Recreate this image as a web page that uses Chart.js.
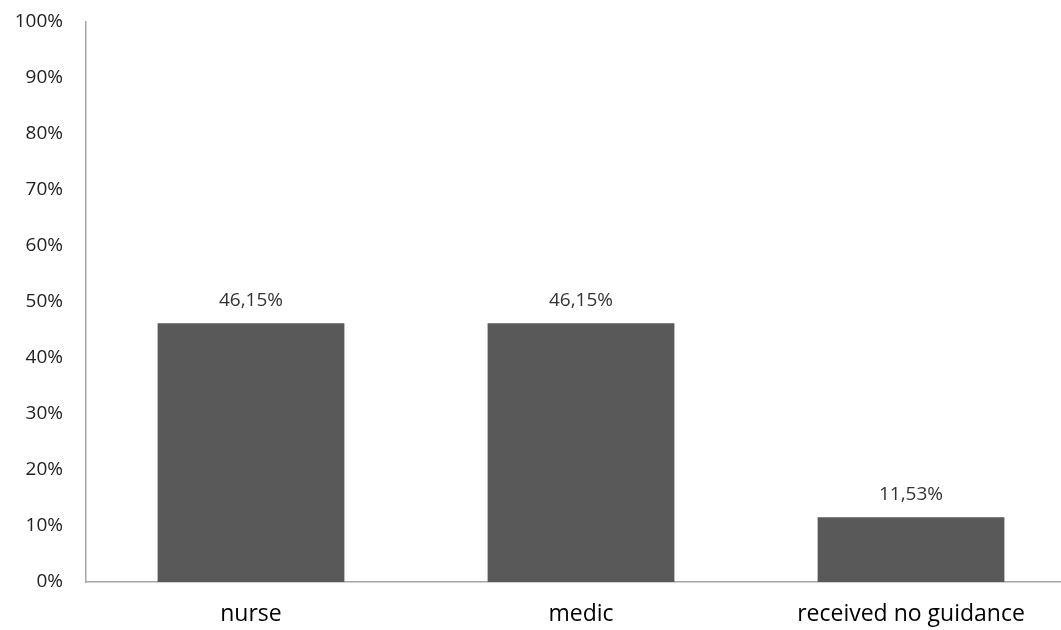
<!DOCTYPE html>
<html>
<head>
<meta charset="utf-8">
<script src="https://cdn.jsdelivr.net/npm/chart.js@4"></script>
<style>
  html, body { margin: 0; padding: 0; background: #fff; overflow: hidden; }
  #wrap { width: 1076px; height: 635px; position: relative; top: -5px; }
</style>
</head>
<body>
<div id="wrap"><canvas id="chart"></canvas></div>
<script>
const categories = ['nurse', 'medic', 'received no guidance'];
const shares = [46.15, 46.15, 11.53];
const tickValues = [0, 10, 20, 30, 40, 50, 60, 70, 80, 90, 100];

const FONT = '"Open Sans", "Liberation Sans", sans-serif';

// writes the value above each bar, decimal comma like the original
const valueLabels = {
  id: 'valueLabels',
  afterDatasetsDraw(chart) {
    const ctx = chart.ctx;
    const meta = chart.getDatasetMeta(0);
    ctx.save();
    ctx.font = '19px ' + FONT;
    ctx.fillStyle = '#333';
    ctx.textAlign = 'center';
    ctx.textBaseline = 'middle';
    meta.data.forEach((bar, i) => {
      const txt = shares[i].toFixed(2).replace('.', ',') + '%';
      ctx.fillText(txt, bar.x, bar.y - 23);
    });
    ctx.restore();
  }
};

new Chart(document.getElementById('chart'), {
  type: 'bar',
  data: {
    labels: categories,
    datasets: [{
      data: shares,
      backgroundColor: '#595959',
      borderWidth: 0,
      categoryPercentage: 1,
      barPercentage: 0.566
    }]
  },
  options: {
    responsive: true,
    maintainAspectRatio: false,
    animation: false,
    events: [],
    layout: { padding: 0 },
    plugins: { legend: { display: false }, tooltip: { enabled: false } },
    scales: {
      x: {
        grid: { display: false },
        border: { display: true, color: '#a6a6a6', width: 1.5 },
        ticks: { color: '#000', font: { family: FONT, size: 23 }, padding: 11 },
        afterFit(axis) { axis.height = 48; }
      },
      y: {
        min: 0,
        max: 100,
        grid: { display: false },
        border: { display: true, color: '#a6a6a6', width: 1.5 },
        afterBuildTicks(axis) { axis.ticks = tickValues.map(v => ({ value: v })); },
        ticks: {
          color: '#222',
          font: { family: FONT, size: 19 },
          padding: 15,
          callback: v => v + '%'
        },
        afterFit(axis) { axis.width = 86; }
      }
    }
  },
  plugins: [valueLabels]
});
</script>
</body>
</html>
